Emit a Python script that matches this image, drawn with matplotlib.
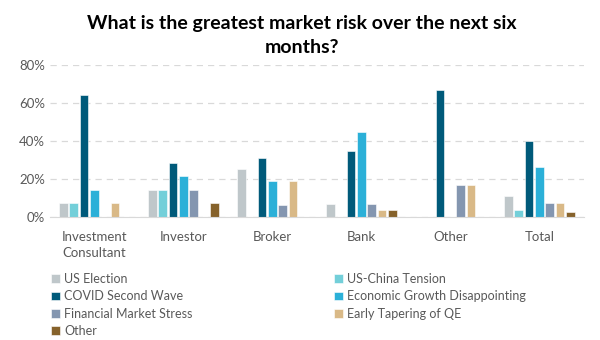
import matplotlib.pyplot as plt
import numpy as np
from matplotlib.ticker import PercentFormatter

plt.rcParams['font.family'] = ['Lato', 'DejaVu Sans']

# Categories and series (share of respondents)
categories = ['Investment\nConsultant', 'Investor', 'Broker', 'Bank', 'Other', 'Total']
series = ['US Election', 'US-China Tension', 'COVID Second Wave',
          'Economic Growth Disappointing', 'Financial Market Stress',
          'Early Tapering of QE', 'Other']
us_election = [0.071, 0.143, 0.25, 0.069, 0.0, 0.111]
us_china = [0.071, 0.143, 0.0, 0.0, 0.0, 0.035]
covid = [0.643, 0.286, 0.3125, 0.345, 0.667, 0.402]
econ_growth = [0.143, 0.214, 0.1875, 0.448, 0.0, 0.263]
market_stress = [0.0, 0.143, 0.0625, 0.069, 0.167, 0.074]
tapering = [0.071, 0.0, 0.1875, 0.034, 0.167, 0.074]
other = [0.0, 0.071, 0.0, 0.034, 0.0, 0.025]
values = [us_election, us_china, covid, econ_growth, market_stress, tapering, other]
colors = ['#BFC7CA', '#73CFD9', '#005A7A', '#2BB0D8', '#8496B0', '#D9B987', '#86622B']

fig = plt.figure(figsize=(6, 3.4), dpi=100)
ax = fig.add_axes([0.083, 0.362, 0.89, 0.447])

x = np.arange(len(categories))
pitch = 0.116
width = 0.098
handles = []
for i, (name, vals, c) in enumerate(zip(series, values, colors)):
    b = ax.bar(x + (i - 3) * pitch, vals, width, color=c, label=name,
               edgecolor='white', linewidth=0.4)
    handles.append(b)

ax.set_xlim(-0.5, 5.5)
ax.set_ylim(0, 0.8)
ax.set_yticks([0, 0.2, 0.4, 0.6, 0.8])
ax.yaxis.set_major_formatter(PercentFormatter(1.0, decimals=0))
ax.set_xticks(x)
ax.set_xticklabels(categories, linespacing=1.45)
ax.tick_params(axis='both', length=0, colors='#595959', labelsize=9.5)
ax.tick_params(axis='x', pad=10)
ax.grid(axis='y', color='#D9D9D9', linestyle=(0, (5, 4)), linewidth=0.9)
ax.set_axisbelow(True)
for s in ['top', 'right', 'left']:
    ax.spines[s].set_visible(False)
ax.spines['bottom'].set_color('#D9D9D9')

fig.suptitle('What is the greatest market risk over the next six\nmonths?',
             fontsize=14, fontweight='bold', y=0.955, x=0.503, linespacing=1.45)

order = [0, 2, 4, 6, 1, 3, 5]
fig.legend([handles[i] for i in order], [series[i] for i in order],
           ncol=2, loc='upper left', bbox_to_anchor=(0.075, 0.215),
           frameon=False, fontsize=9, handlelength=0.7, handleheight=0.7,
           handletextpad=0.35, columnspacing=11.3, labelspacing=0.42,
           labelcolor='#595959', borderpad=0)

fig.savefig('out.png', dpi=100)
